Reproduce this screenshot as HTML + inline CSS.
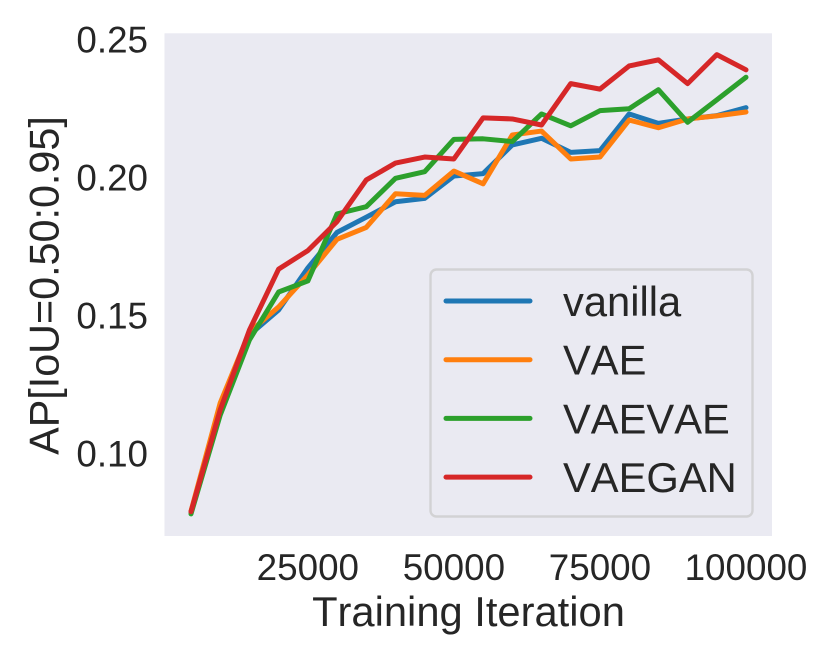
<!DOCTYPE html>
<html lang="en">
<head>
<meta charset="utf-8">
<title>AP vs Training Iteration</title>
<style>
html,body{margin:0;padding:0;background:#fff;width:830px;height:664px;overflow:hidden}
svg{display:block}
text{font-family:"Liberation Sans",Arial,sans-serif;fill:#262626}
.nokern{font-kerning:none}
</style>
</head>
<body>
<svg id="chart" xmlns="http://www.w3.org/2000/svg" width="830" height="664" viewBox="0 0 830 664">
  <rect x="0" y="0" width="830" height="664" fill="#ffffff"/>
  <rect x="164.5" y="33.3" width="607.5" height="502.7" fill="#eaeaf2"/>
  <g id="x-ticks"></g>
  <g id="y-ticks"></g>
  <g id="series"></g>
  <text x="468.5" y="626" font-size="41.7" text-anchor="middle" class="nokern">Training Iteration</text>
  <text transform="translate(58.5,285.5) rotate(-90)" font-size="41.3" text-anchor="middle">AP[IoU=0.50:0.95]</text>
  <g id="legend">
    <rect x="430.5" y="269.5" width="322" height="247" rx="6" ry="6" fill="#eaeaf2" stroke="#d2d2d4" stroke-width="2.4"/>
  </g>
</svg>
<script>
var iterations = [5000,10000,15000,20000,25000,30000,35000,40000,45000,50000,55000,60000,65000,70000,75000,80000,85000,90000,95000,100000];
var vanillaValues = [0.0790,0.1149,0.1431,0.1522,0.1674,0.1803,0.1858,0.1914,0.1926,0.2007,0.2016,0.2120,0.2144,0.2093,0.2099,0.2232,0.2198,0.2214,0.2226,0.2255];
var vaeValues = [0.0793,0.1185,0.1442,0.1533,0.1649,0.1778,0.1821,0.1943,0.1937,0.2025,0.1979,0.2156,0.2170,0.2069,0.2076,0.2210,0.2182,0.2214,0.2225,0.2239];
var vaevaeValues = [0.0783,0.1141,0.1413,0.1587,0.1627,0.1870,0.1896,0.1999,0.2023,0.2140,0.2142,0.2132,0.2232,0.2189,0.2244,0.2251,0.2320,0.2202,0.2283,0.2365];
var vaeganValues = [0.0791,0.1160,0.1449,0.1670,0.1737,0.1842,0.1993,0.2054,0.2076,0.2069,0.2218,0.2214,0.2192,0.2342,0.2322,0.2406,0.2428,0.2342,0.2447,0.2392];
var seriesNames = ["vanilla","VAE","VAEVAE","VAEGAN"];
var seriesColors = ["#1f77b4","#ff7f0e","#2ca02c","#d62728"];
var xTickValues = [25000,50000,75000,100000];
var xTickLabels = ["25000","50000","75000","100000"];
var yTickValues = [0.10,0.15,0.20,0.25];
var yTickLabels = ["0.10","0.15","0.20","0.25"];

var NS = "http://www.w3.org/2000/svg";
function xScale(t){ return 191 + (t - 5000) * (555 / 95000); }
function yScale(v){ return 178 - (v - 0.2) * 2760; }

var allSeries = [vanillaValues, vaeValues, vaevaeValues, vaeganValues];

var xTickGroup = document.getElementById("x-ticks");
xTickValues.forEach(function(t, i){
  var el = document.createElementNS(NS, "text");
  el.setAttribute("x", xScale(t));
  el.setAttribute("y", 580);
  el.setAttribute("font-size", "36.8");
  el.setAttribute("text-anchor", "middle");
  
  
  el.textContent = xTickLabels[i];
  xTickGroup.appendChild(el);
});

var yTickGroup = document.getElementById("y-ticks");
yTickValues.forEach(function(v, i){
  var el = document.createElementNS(NS, "text");
  el.setAttribute("x", 148);
  el.setAttribute("y", yScale(v) + 12.7);
  el.setAttribute("font-size", "36.8");
  el.setAttribute("text-anchor", "end");
  
  
  el.textContent = yTickLabels[i];
  yTickGroup.appendChild(el);
});

var seriesGroup = document.getElementById("series");
allSeries.forEach(function(values, s){
  var pts = values.map(function(v, i){
    return xScale(iterations[i]).toFixed(2) + "," + yScale(v).toFixed(2);
  }).join(" ");
  var line = document.createElementNS(NS, "polyline");
  line.setAttribute("points", pts);
  line.setAttribute("fill", "none");
  line.setAttribute("stroke", seriesColors[s]);
  line.setAttribute("stroke-width", "5");
  line.setAttribute("stroke-linejoin", "round");
  line.setAttribute("stroke-linecap", "round");
  
  
  seriesGroup.appendChild(line);
});

var legendGroup = document.getElementById("legend");
seriesNames.forEach(function(name, i){
  var rowY = 301 + i * 58.7;
  var swatch = document.createElementNS(NS, "line");
  swatch.setAttribute("x1", 446);
  swatch.setAttribute("x2", 530);
  swatch.setAttribute("y1", rowY);
  swatch.setAttribute("y2", rowY);
  swatch.setAttribute("stroke", seriesColors[i]);
  swatch.setAttribute("stroke-width", "5");
  swatch.setAttribute("stroke-linecap", "round");
  
  
  legendGroup.appendChild(swatch);
  var label = document.createElementNS(NS, "text");
  label.setAttribute("x", 563);
  label.setAttribute("y", rowY + 15);
  label.setAttribute("font-size", "41.7");
  label.setAttribute("class", "nokern");
  
  
  label.textContent = name;
  legendGroup.appendChild(label);
});
</script>
</body>
</html>
